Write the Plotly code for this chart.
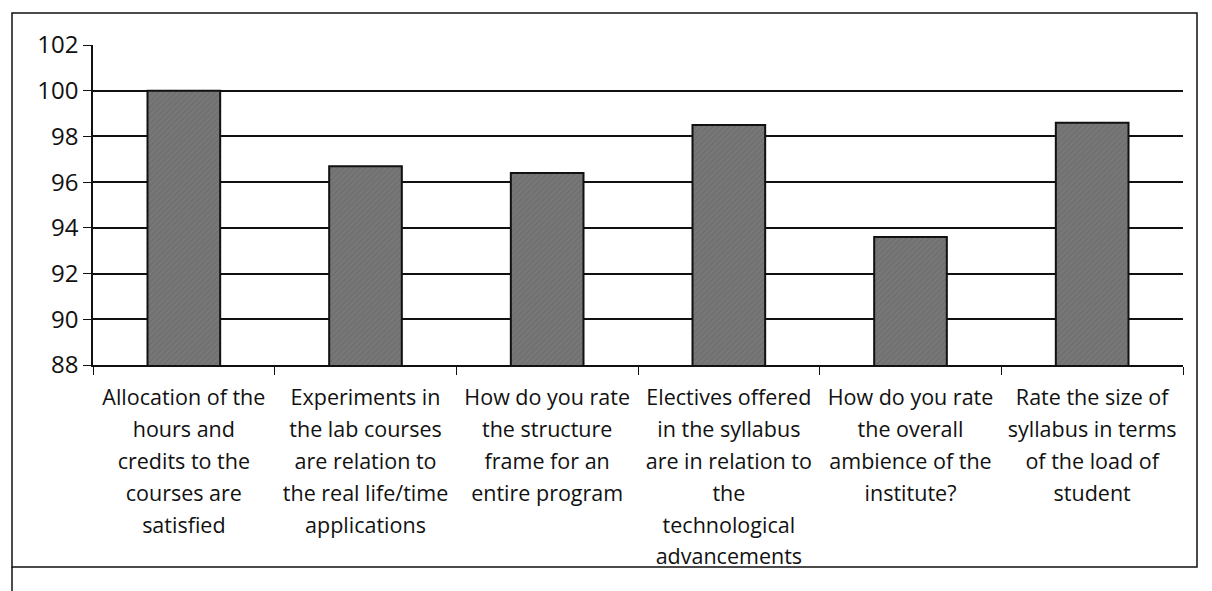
import plotly.graph_objects as go

categories = [
    "Allocation of the<br>hours and<br>credits to the<br>courses are<br>satisfied",
    "Experiments in<br>the lab courses<br>are relation to<br>the real life/time<br>applications",
    "How do you rate<br>the structure<br>frame for an<br>entire program",
    "Electives offered<br>in the syllabus<br>are in relation to<br>the<br>technological<br>advancements",
    "How do you rate<br>the overall<br>ambience of the<br>institute?",
    "Rate the size of<br>syllabus in terms<br>of the load of<br>student",
]
values = [100.0, 96.7, 96.4, 98.5, 93.6, 98.6]
y_ticks = [88, 90, 92, 94, 96, 98, 100, 102]

def styled(label):
    parts = label.split("<br>")
    return "<br>".join("<span style='font-size:21.5px'>%s</span>" % p for p in parts)

labels = [styled(c) for c in categories]

# page is drawn with an 8px offset; work in figure coordinates
OFF = 8
W, H = 1212 - OFF, 591 - OFF
PL, PR = 93 - OFF, 1183 - OFF      # plot area left/right
PT, PB = 45 - OFF, 365 - OFF       # plot area top/bottom

fig = go.Figure(go.Bar(
    x=labels, y=values,
    marker=dict(color="#777777", line=dict(color="#111111", width=2),
                pattern=dict(shape="/", fgcolor="#5e5e5e", size=4, solidity=0.25)),
    width=0.4,
))

fig.update_layout(
    width=W, height=H,
    margin=dict(l=PL, r=W - PR, t=PT, b=H - PB, pad=0),
    paper_bgcolor="white", plot_bgcolor="white",
    showlegend=False,
    font=dict(family="Open Sans, Noto Sans, sans-serif", color="#111111"),
    xaxis=dict(
        showgrid=False, showline=True, linecolor="#111111", linewidth=1.5,
        ticks="outside", tickson="boundaries", ticklen=8, tickcolor="#111111",
        tickfont=dict(size=24.5, color="#111111"), tickangle=0,
        ticklabelstandoff=9,
    ),
    yaxis=dict(
        range=[88, 102], tickvals=y_ticks, showgrid=True, gridcolor="#111111", gridwidth=1.5,
        showline=True, linecolor="#111111", linewidth=1.5,
        ticks="outside", ticklen=8, tickcolor="#111111",
        tickfont=dict(size=24, color="#111111"), zeroline=False,
    ),
)

pw, ph = PR - PL, PB - PT
def px(x):
    return (x - OFF - PL) / pw
def py(y):
    return (PB - (y - OFF)) / ph

# outer chart frame
fig.add_shape(type="rect", xref="paper", yref="paper",
              x0=px(12), x1=px(1197), y0=py(567), y1=py(13),
              line=dict(color="#111111", width=1.5), layer="below")
fig.add_shape(type="line", xref="paper", yref="paper",
              x0=px(12), x1=px(12), y0=py(591), y1=py(567),
              line=dict(color="#111111", width=1.5))

fig.write_html("out.html")
